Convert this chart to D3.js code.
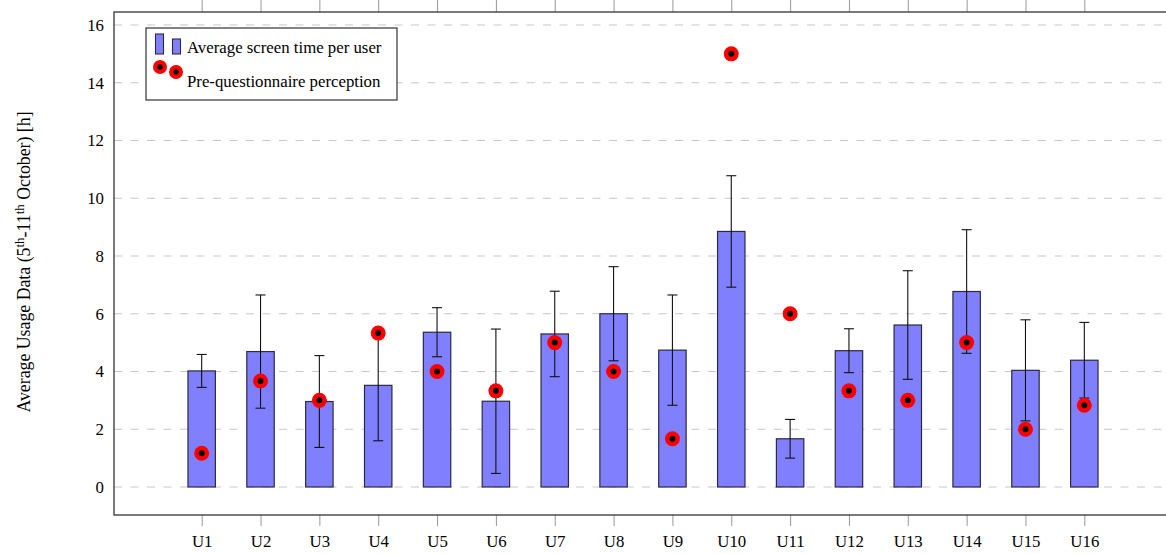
<!DOCTYPE html>
<html><head><meta charset="utf-8">
<script src="https://cdn.jsdelivr.net/npm/d3@7"></script>
<style>
html,body{margin:0;padding:0;background:#fff;}
svg{display:block;font-family:"Liberation Serif","DejaVu Serif",serif;}
</style></head>
<body>
<svg id="chart" width="1166" height="554"></svg>
<script>
const categories = ["U1","U2","U3","U4","U5","U6","U7","U8","U9","U10","U11","U12","U13","U14","U15","U16"];
const screenTime = [4.02,4.69,2.96,3.52,5.36,2.97,5.30,6.00,4.74,8.85,1.67,4.72,5.61,6.77,4.04,4.39];
const screenErr  = [0.57,1.96,1.59,1.92,0.85,2.50,1.48,1.63,1.91,1.93,0.67,0.76,1.88,2.14,1.75,1.31];
const perception = [1.17,3.67,3.00,5.33,4.00,3.33,5.00,4.00,1.67,15.00,6.00,3.33,3.00,5.00,2.00,2.83];
const yTicks = [0,2,4,6,8,10,12,14,16];
const seriesNames = ["Average screen time per user","Pre-questionnaire perception"];

const svg = d3.select("#chart");
const L = 114, R = 1172, T = 12, B = 515;
const FS = 16.8;
const x = d3.scaleLinear().domain([-0.49, 17.49]).range([L, R]);
const y = d3.scaleLinear().domain([-0.97, 16.45]).range([B, T]);
const barHalf = 0.233;

// grid
svg.append("g").selectAll("line").data(yTicks).join("line")
  .attr("x1", L).attr("x2", R)
  .attr("y1", d => y(d)).attr("y2", d => y(d))
  .attr("stroke", "#c8c8c8").attr("stroke-width", 1.2)
  .attr("stroke-dasharray", "8,8.5");

// y axis labels
const yAxis = d3.axisLeft(y).tickValues(yTicks).tickSize(0).tickPadding(10);
const gy = svg.append("g").attr("transform", `translate(${L},0)`).call(yAxis);
gy.select(".domain").remove();
gy.selectAll("text").attr("font-family", "Liberation Serif").attr("font-size", FS).attr("fill", "#000");

// x axis (bottom, ticks outside)
const idx = categories.map((c, i) => i + 1);
const xAxis = d3.axisBottom(x).tickValues(idx).tickFormat(i => categories[i - 1]).tickSize(11).tickPadding(9.5);
const gx = svg.append("g").attr("transform", `translate(0,${B})`).call(xAxis);
gx.select(".domain").remove();
gx.selectAll("line").attr("stroke", "#999");
gx.selectAll("text").attr("font-family", "Liberation Serif").attr("font-size", FS).attr("fill", "#000");

// top ticks (outside, above frame)
const xTop = d3.axisTop(x).tickValues(idx).tickFormat("").tickSize(T);
const gt = svg.append("g").attr("transform", `translate(0,${T})`).call(xTop);
gt.select(".domain").remove();
gt.selectAll("line").attr("stroke", "#999");

// bars
svg.append("g").selectAll("rect").data(screenTime).join("rect")
  .attr("x", (d, i) => x(i + 1 - barHalf))
  .attr("width", (d, i) => x(i + 1 + barHalf) - x(i + 1 - barHalf))
  .attr("y", d => y(d))
  .attr("height", d => y(0) - y(d))
  .attr("fill", "#8080ff").attr("stroke", "#2a2a40").attr("stroke-width", 1.2);

// error bars
const eg = svg.append("g").attr("stroke", "#111").attr("stroke-width", 1.1);
screenTime.forEach((m, i) => {
  const cx = x(i + 1), lo = y(m - screenErr[i]), hi = y(m + screenErr[i]);
  eg.append("line").attr("x1", cx).attr("x2", cx).attr("y1", lo).attr("y2", hi);
  eg.append("line").attr("x1", cx - 5).attr("x2", cx + 5).attr("y1", lo).attr("y2", lo);
  eg.append("line").attr("x1", cx - 5).attr("x2", cx + 5).attr("y1", hi).attr("y2", hi);
});

// perception dots
const dg = svg.append("g");
dg.selectAll("circle.o").data(perception).join("circle").attr("class", "o")
  .attr("cx", (d, i) => x(i + 1)).attr("cy", d => y(d)).attr("r", 7.5).attr("fill", "#ff0000");
dg.selectAll("circle.i").data(perception).join("circle").attr("class", "i")
  .attr("cx", (d, i) => x(i + 1)).attr("cy", d => y(d)).attr("r", 3).attr("fill", "#000");

// frame
svg.append("rect").attr("x", L).attr("y", T).attr("width", R - L).attr("height", B - T)
  .attr("fill", "none").attr("stroke", "#333").attr("stroke-width", 1.3);

// legend
const lg = svg.append("g");
lg.append("rect").attr("x", 146).attr("y", 28).attr("width", 251).attr("height", 72)
  .attr("fill", "#fff").attr("stroke", "#333").attr("stroke-width", 1.2);
lg.append("rect").attr("x", 155.5).attr("y", 34).attr("width", 8).attr("height", 20)
  .attr("fill", "#8080ff").attr("stroke", "#2a2a40").attr("stroke-width", 1.1);
lg.append("rect").attr("x", 172.5).attr("y", 39).attr("width", 8).attr("height", 15)
  .attr("fill", "#8080ff").attr("stroke", "#2a2a40").attr("stroke-width", 1.1);
[[160, 67], [176, 72]].forEach(p => {
  lg.append("circle").attr("cx", p[0]).attr("cy", p[1]).attr("r", 7).attr("fill", "#ff0000");
  lg.append("circle").attr("cx", p[0]).attr("cy", p[1]).attr("r", 2.8).attr("fill", "#000");
});
lg.append("text").attr("x", 187).attr("y", 53).attr("font-size", FS).attr("fill", "#000").text(seriesNames[0]);
lg.append("text").attr("x", 187).attr("y", 87).attr("font-size", FS).attr("fill", "#000").text(seriesNames[1]);

// y axis title
const yt = svg.append("text")
  .attr("transform", `translate(30,262) rotate(-90)`)
  .attr("text-anchor", "middle").attr("font-size", 17.8).attr("fill", "#000");
yt.append("tspan").text("Average Usage Data (5");
yt.append("tspan").attr("dy", -6.5).attr("font-size", 13).text("th");
yt.append("tspan").attr("dy", 6.5).text("-11");
yt.append("tspan").attr("dy", -6.5).attr("font-size", 13).text("th");
yt.append("tspan").attr("dy", 6.5).text(" October) [h]");
</script>
</body></html>
